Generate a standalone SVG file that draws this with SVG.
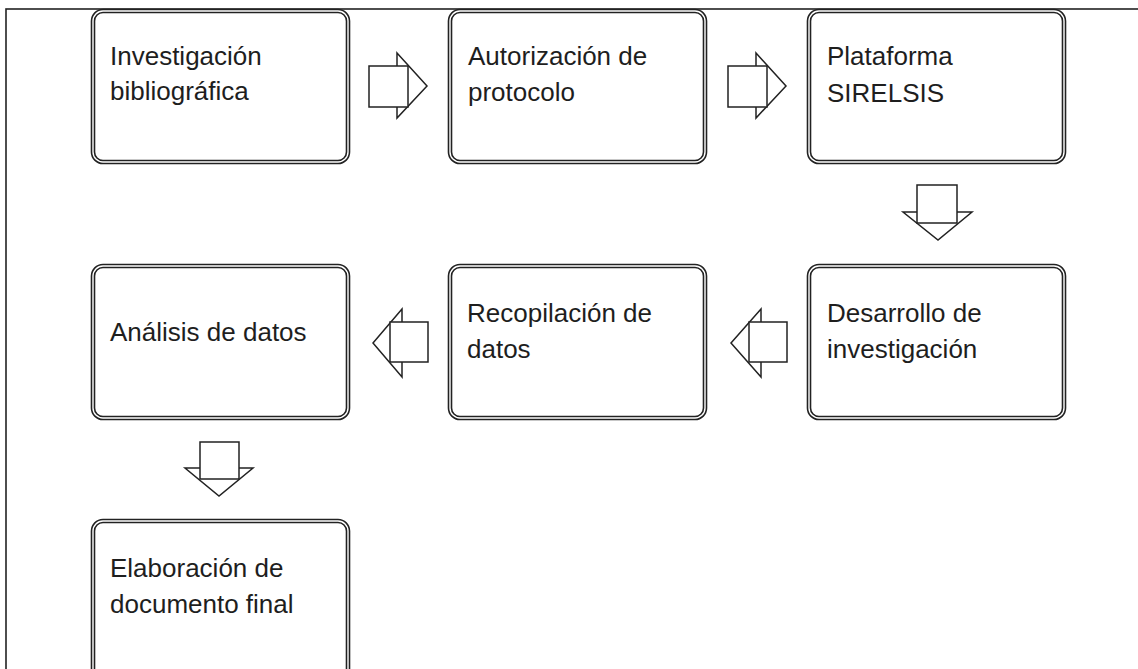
<svg xmlns="http://www.w3.org/2000/svg" width="1138" height="669" viewBox="0 0 1138 669">
<style>
.frame{fill:none;stroke:#222;stroke-width:1.6}
.bo{fill:#fff;stroke:#222;stroke-width:4.6}
.bi{fill:none;stroke:#fff;stroke-width:1.4}
.t{font-family:"Liberation Sans",Arial,sans-serif;font-size:26px;fill:#1e1e1e}
.ar{fill:#fff;stroke:#222;stroke-width:1.5;stroke-linejoin:miter}
</style>
<rect width="1138" height="669" fill="#fff"/>
<rect class="frame" x="6" y="9" width="1140" height="680"/>
<g id="n1"><rect class="bo" x="93" y="11" width="255" height="151" rx="10"/><rect class="bi" x="93" y="11" width="255" height="151" rx="10"/>
<text class="t" x="110" y="65">Investigación</text><text class="t" x="110" y="100">bibliográfica</text></g>
<g id="n2"><rect class="bo" x="450" y="11" width="255" height="151" rx="10"/><rect class="bi" x="450" y="11" width="255" height="151" rx="10"/>
<text class="t" x="468" y="65">Autorización de</text><text class="t" x="468" y="101">protocolo</text></g>
<g id="n3"><rect class="bo" x="809" y="11" width="255" height="151" rx="10"/><rect class="bi" x="809" y="11" width="255" height="151" rx="10"/>
<text class="t" x="827" y="65">Plataforma</text><text class="t" x="827" y="102">SIRELSIS</text></g>
<g id="n4"><rect class="bo" x="809" y="266" width="255" height="152" rx="10"/><rect class="bi" x="809" y="266" width="255" height="152" rx="10"/>
<text class="t" x="827" y="322">Desarrollo de</text><text class="t" x="827" y="358">investigación</text></g>
<g id="n5"><rect class="bo" x="450" y="266" width="255" height="152" rx="10"/><rect class="bi" x="450" y="266" width="255" height="152" rx="10"/>
<text class="t" x="467" y="322">Recopilación de</text><text class="t" x="467" y="358">datos</text></g>
<g id="n6"><rect class="bo" x="93" y="266" width="255" height="152" rx="10"/><rect class="bi" x="93" y="266" width="255" height="152" rx="10"/>
<text class="t" x="110" y="341">Análisis de datos</text></g>
<g id="n7"><rect class="bo" x="93" y="521" width="255" height="170" rx="10"/><rect class="bi" x="93" y="521" width="255" height="170" rx="10"/>
<text class="t" x="110" y="577">Elaboración de</text><text class="t" x="110" y="613">documento final</text></g>
<g id="connectors">
<g id="a1"><polygon class="ar" points="397,53 427,86 397,118"/><rect class="ar" x="369" y="66" width="39" height="41"/></g>
<g id="a2"><polygon class="ar" points="756,53 786,86 756,118"/><rect class="ar" x="728" y="66" width="39" height="41"/></g>
<g id="a3"><polygon class="ar" points="903,212 972,212 938,240"/><rect class="ar" x="917" y="185" width="40" height="38"/></g>
<g id="a4"><polygon class="ar" points="761,309 731,343 761,377"/><rect class="ar" x="749" y="322" width="38" height="40"/></g>
<g id="a5"><polygon class="ar" points="402,309 373,343 402,377"/><rect class="ar" x="390" y="322" width="38" height="40"/></g>
<g id="a6"><polygon class="ar" points="185,468 253,468 219,496"/><rect class="ar" x="200" y="442" width="39" height="37"/></g>
</g>
</svg>
